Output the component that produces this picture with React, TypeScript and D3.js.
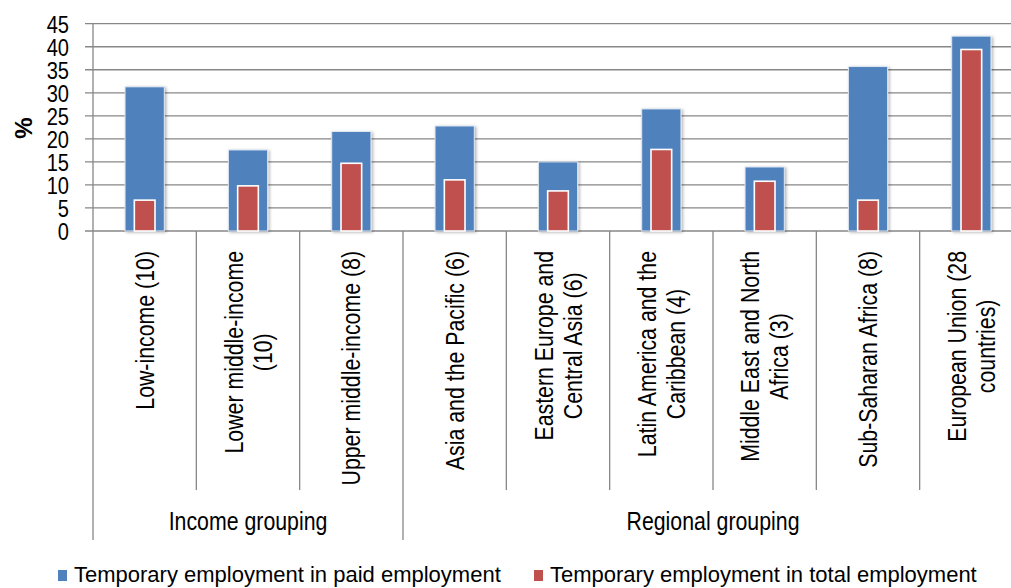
import React, { useEffect, useRef } from 'react';
import * as d3 from 'd3';

const categoryLines: string[][] = [
  ['Low-income (10)'],
  ['Lower middle-income', '(10)'],
  ['Upper middle-income (8)'],
  ['Asia and the Pacific (6)'],
  ['Eastern Europe and', 'Central Asia (6)'],
  ['Latin America and the', 'Caribbean (4)'],
  ['Middle East and North', 'Africa (3)'],
  ['Sub-Saharan Africa (8)'],
  ['European Union (28', 'countries)'],
];
const categories = categoryLines.map((l) => l.join(' '));
const paidValues = [31.3, 17.6, 21.6, 22.8, 15.0, 26.5, 13.9, 35.7, 42.3];
const totalValues = [6.7, 9.8, 14.7, 11.1, 8.7, 17.7, 10.8, 6.7, 39.4];
const yTicks = [0, 5, 10, 15, 20, 25, 30, 35, 40, 45];
const groupNames = ['Income grouping', 'Regional grouping'];
const groupSizes = [3, 6];
const seriesNames = ['Temporary employment in paid employment', 'Temporary employment in total employment'];
const seriesColors = ['#4F81BD', '#C0504D'];

const W = 1011;
const H = 588;
const SANS = "'Liberation Sans', Arial, sans-serif";
const NARROW_SCALE = 0.82;
const GRID = '#878787';

export default function App() {
  const ref = useRef<SVGSVGElement>(null);
  useEffect(() => {
    const svg = d3.select(ref.current);
    svg.selectAll('*').remove();
    const x = d3.scaleBand<string>().domain(categories).range([93, 1023]).padding(0);
    const y = d3.scaleLinear().domain([0, 45]).range([231, 23.7]);
    const bw = x.bandwidth();

    const defs = svg.append('defs');
    const f = defs.append('filter').attr('id', 'shadow').attr('x', '-30%').attr('y', '-10%').attr('width', '160%').attr('height', '120%');
    f.append('feDropShadow').attr('dx', 1.5).attr('dy', 1).attr('stdDeviation', 1.5)
      .attr('flood-color', '#000').attr('flood-opacity', 0.3);

    // gridlines + ticks
    svg.append('g').selectAll('line').data(yTicks).join('line')
      .attr('x1', 85).attr('x2', W).attr('y1', (d) => y(d)).attr('y2', (d) => y(d))
      .attr('stroke', GRID).attr('stroke-width', 1.3);
    // y axis
    svg.append('line').attr('x1', 93).attr('x2', 93).attr('y1', y(45)).attr('y2', y(0))
      .attr('stroke', GRID).attr('stroke-width', 1.3);
    // tick labels (narrow)
    svg.append('g').selectAll('text').data(yTicks).join('text')
      .attr('transform', (d) => `translate(69,${y(d)}) scale(${NARROW_SCALE},1)`)
      .attr('dy', '0.36em')
      .attr('text-anchor', 'end').attr('font-family', SANS).attr('font-size', 24.5)
      .attr('fill', '#000').text((d) => String(d));
    // y title
    svg.append('text').attr('transform', 'translate(23,128) rotate(-90)')
      .attr('text-anchor', 'middle').attr('dominant-baseline', 'central')
      .attr('font-family', SANS).attr('font-weight', 'bold').attr('font-size', 24).text('%');

    // dividers
    const bounds = d3.range(categories.length + 1).map((i) => (i < categories.length ? (x(categories[i]) as number) : x.range()[1]));
    const groupBounds = [0, ...d3.cumsum(groupSizes)];
    svg.append('g').selectAll('line').data(bounds).join('line')
      .attr('x1', (d) => d).attr('x2', (d) => d).attr('y1', y(0))
      .attr('y2', (_d, i) => (groupBounds.includes(i) ? 540 : 490))
      .attr('stroke', GRID).attr('stroke-width', 1.3);

    // bars
    const gb = svg.append('g');
    gb.selectAll('rect.paid').data(paidValues).join('rect').attr('class', 'paid')
      .attr('x', (_d, i) => (x(categories[i]) as number) + bw / 2 - bw * 0.19)
      .attr('width', bw * 0.38)
      .attr('y', (d) => y(d)).attr('height', (d) => y(0) - y(d))
      .attr('fill', seriesColors[0]).attr('stroke', '#dfe8f3').attr('stroke-width', 1)
      .attr('filter', 'url(#shadow)');
    gb.selectAll('rect.total').data(totalValues).join('rect').attr('class', 'total')
      .attr('x', (_d, i) => (x(categories[i]) as number) + bw / 2 - bw * 0.1)
      .attr('width', bw * 0.2)
      .attr('y', (d) => y(d)).attr('height', (d) => y(0) - y(d))
      .attr('fill', seriesColors[1]).attr('stroke', '#fff').attr('stroke-width', 1.6);

    // category labels (rotated, narrow)
    const top = 251;
    categoryLines.forEach((lines, i) => {
      const cx = (x(categories[i]) as number) + bw / 2;
      const g = svg.append('g').attr('transform', `translate(${cx},${top}) rotate(-90) scale(${NARROW_SCALE},1)`);
      const n = lines.length;
      const texts = lines.map((line, j) =>
        g.append('text').attr('y', (j - (n - 1) / 2) * 29).attr('dy', '0.35em')
          .attr('text-anchor', 'middle').attr('font-family', SANS).attr('font-size', 26)
          .attr('fill', '#000').text(line)
      );
      const maxLen = d3.max(texts, (t) => (t.node() as SVGTextElement).getComputedTextLength()) || 0;
      texts.forEach((t) => t.attr('x', -maxLen / 2));
    });

    // group labels
    groupNames.forEach((name, k) => {
      const cx = (bounds[groupBounds[k]] + bounds[groupBounds[k + 1]]) / 2;
      svg.append('text').attr('transform', `translate(${cx},530) scale(${NARROW_SCALE},1)`)
        .attr('text-anchor', 'middle')
        .attr('font-family', SANS).attr('font-size', 26).attr('fill', '#000').text(name);
    });

    // legend
    const legX = [58, 534];
    seriesNames.forEach((name, k) => {
      svg.append('rect').attr('x', legX[k]).attr('y', 570).attr('width', 9).attr('height', 11).attr('fill', seriesColors[k]);
      svg.append('text').attr('x', legX[k] + 16).attr('y', 582)
        .attr('font-family', SANS).attr('font-size', 22).attr('fill', '#000').text(name);
    });
  }, []);
  return <svg ref={ref} width={W} height={H} style={{ position: 'absolute', left: 0, top: 0, background: '#fff' }} />;
}
